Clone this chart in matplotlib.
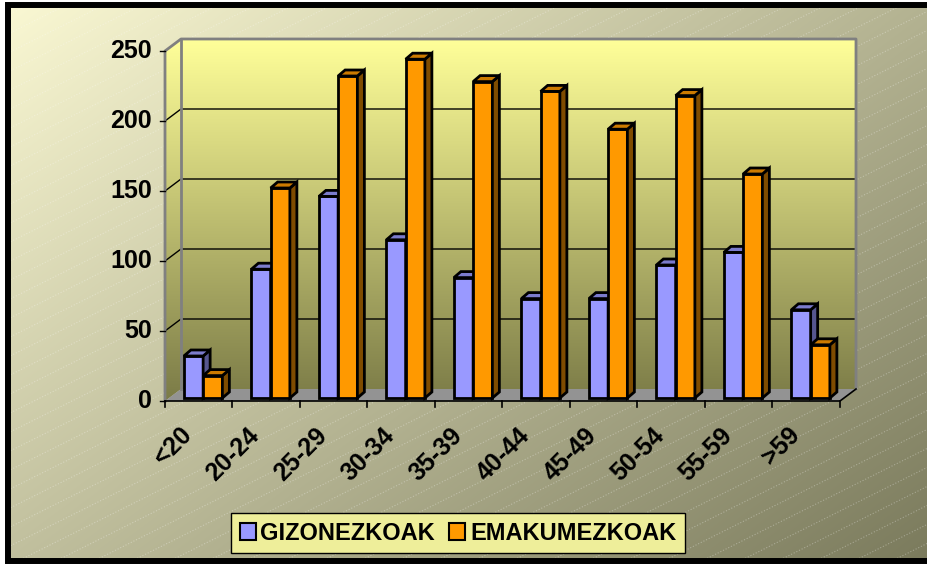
import numpy as np
import matplotlib
matplotlib.use("Agg")
import matplotlib.pyplot as plt
from matplotlib.patches import Polygon, Rectangle, Patch
from matplotlib.colors import to_rgb

plt.rcParams['font.family'] = ['Liberation Sans', 'DejaVu Sans']

categories = ['<20', '20-24', '25-29', '30-34', '35-39', '40-44',
              '45-49', '50-54', '55-59', '>59']
gizonezkoak = [30, 92, 144, 113, 86, 71, 71, 95, 104, 63]
emakumezkoak = [16, 150, 230, 242, 226, 219, 192, 216, 160, 38]
y_ticks = [0, 50, 100, 150, 200, 250]
series_names = ['GIZONEZKOAK', 'EMAKUMEZKOAK']

W, H = 928, 564
fig = plt.figure(figsize=(W / 100, H / 100), dpi=100)

# ---- outer background: diagonal gradient + fine dotted hatch ----
bg = fig.add_axes([0, 0, 1, 1], zorder=0)
yy, xx = np.mgrid[0:H, 0:W]
t = 0.55 * xx / W + 0.45 * yy / H
c0, c1 = np.array(to_rgb('#fbf9d4')), np.array(to_rgb('#7a7a5c'))
grad = c0 + (c1 - c0) * t[..., None]
img = bg.imshow(grad, extent=[0, W, H, 0], aspect='auto')
clip = Rectangle((8, 5), 1000, 556, transform=bg.transData)
img.set_clip_path(clip)
xs = np.array([0, W])
for c in np.arange(0, H + 0.5 * W, 19):
    ln, = bg.plot(xs, c - 0.5 * xs, color='white', alpha=0.3, lw=0.8, ls=':')
    ln.set_clip_path(clip)
# black frame on top, left and bottom only
bg.plot([W, 8, 8, W], [5, 5, 561, 561], color='black', lw=4.3,
        solid_joinstyle='miter')
bg.set_xlim(0, W)
bg.set_ylim(H, 0)
bg.axis('off')

# ---- plot area: 3D box, front at x 165..840 px, y 401..51 px ----
px = 10 / 675          # x data units per pixel
py = 250 / 350         # y data units per pixel
DX, DY = 16 * px, 12 * py
ax = fig.add_axes([165 / W, 1 - 401 / H, 691 / W, 362 / H], zorder=1)
ax.patch.set_visible(False)
XMAX, YMAX = 10 + DX, 250 + DY

# walls with vertical gradient
wall = np.linspace(0, 1, 256)[:, None, None]
wtop, wbot = np.array(to_rgb('#ffff99')), np.array(to_rgb('#7b7b47'))
wall_img = np.repeat(wtop + (wbot - wtop) * wall, 2, axis=1)
wim = ax.imshow(wall_img, extent=[0, XMAX, 0, YMAX], aspect='auto',
                origin='upper', zorder=0)
wall_poly = Polygon([(0, 0), (DX, DY), (XMAX, DY), (XMAX, YMAX),
                     (DX, YMAX), (0, 250)], transform=ax.transData)
wim.set_clip_path(wall_poly)
ax.add_patch(Polygon([(0, 0), (10, 0), (XMAX, DY), (DX, DY)],
                     fc='#939393', ec='none', zorder=1))

# gridlines on back wall and side wall
for v in y_ticks[1:-1]:
    ax.plot([0, DX, XMAX], [v, v + DY, v + DY], color='black', lw=1, zorder=2)
ax.plot([0, 0, DX, XMAX, XMAX], [0, 250, YMAX, YMAX, DY],
        color='#808080', lw=2, zorder=2, clip_on=False)
ax.plot([DX, DX], [DY, YMAX], color='#808080', lw=2, zorder=2)

# y ticks and labels
for v in y_ticks:
    ax.plot([-5 * px, 0], [v, v], color='black', lw=1, zorder=4, clip_on=False)
    ax.text(-13 * px, v, str(v), ha='right', va='center', fontsize=18,
            fontweight='bold', zorder=4)

# x axis, ticks and labels
ax.plot([0, 10, XMAX], [0, 0, DY], color='black', lw=1.2, zorder=4,
        clip_on=False)
for i in range(len(categories) + 1):
    ax.plot([i, i], [0, -6 * py], color='black', lw=1.2, zorder=4, clip_on=False)
for i, cat in enumerate(categories):
    ax.text(i + 0.5 - 19 * px, -22 * py, cat, rotation=45, rotation_mode='anchor',
            ha='right', va='top', fontsize=18, fontweight='bold', zorder=4)

# 3D bars
BW = 0.285
LIFT = 3 * py
bdx, bdy = 7 * px, 6 * py
colors = [('#9999ff', '#7b7bcc', '#56568f'), ('#ff9900', '#cc7a00', '#7f4c00')]


def bar3d(x0, v, front, top, side):
    x1 = x0 + BW
    b, h = LIFT, LIFT + v
    ax.bar(x0, v, width=BW, bottom=LIFT, align='edge', color=front,
           edgecolor='black', lw=2, zorder=3, clip_on=False)
    ax.add_patch(Polygon([(x1, b), (x1 + bdx, b + bdy), (x1 + bdx, h + bdy), (x1, h)],
                         fc=side, ec='black', lw=2, zorder=3, clip_on=False))
    ax.add_patch(Polygon([(x0, h), (x1, h), (x1 + bdx, h + bdy), (x0 + bdx, h + bdy)],
                         fc=top, ec='black', lw=2, zorder=3, clip_on=False))


for i in range(len(categories)):
    x0 = i + 0.28
    bar3d(x0, gizonezkoak[i], *colors[0])
    bar3d(x0 + BW, emakumezkoak[i], *colors[1])

ax.set_xlim(0, XMAX)
ax.set_ylim(0, YMAX)
ax.axis('off')

# legend
handles = [Patch(facecolor=colors[0][0], edgecolor='black', lw=1.5),
           Patch(facecolor=colors[1][0], edgecolor='black', lw=1.5)]
leg = fig.legend(handles, series_names, loc='center',
                 bbox_to_anchor=(458 / W, 1 - 533 / H), ncol=2, fancybox=False,
                 edgecolor='black', facecolor='#eeee9a', framealpha=1,
                 prop={'size': 17, 'weight': 'bold'}, handlelength=0.68,
                 handleheight=0.7, handletextpad=0.2, columnspacing=0.6,
                 borderpad=0.35)
leg.get_frame().set_linewidth(1)

fig.savefig('out.png', dpi=100)
